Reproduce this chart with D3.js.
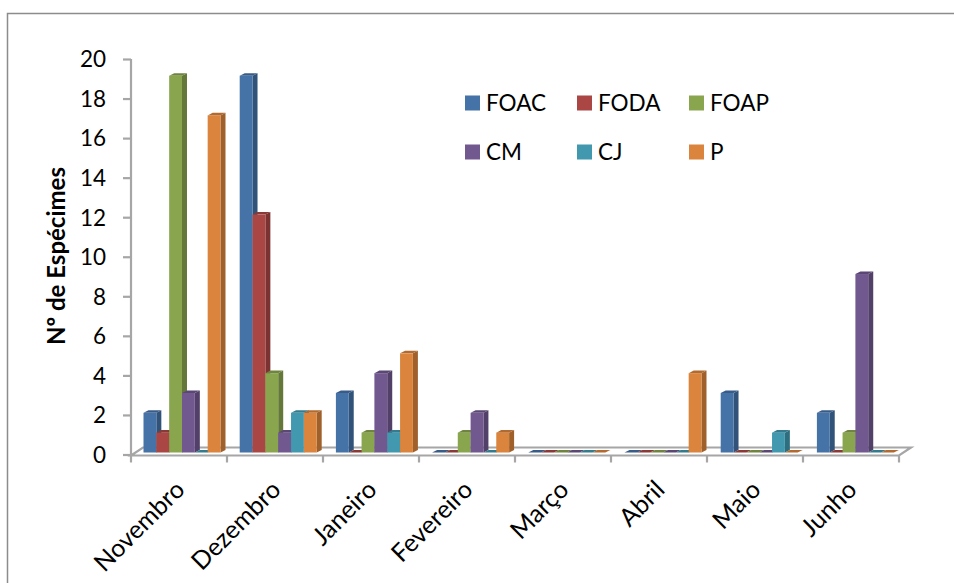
<!DOCTYPE html>
<html><head><meta charset="utf-8">
<script src="https://cdn.jsdelivr.net/npm/d3@7"></script>
<style>html,body{margin:0;padding:0;background:#fff}svg{display:block}text{font-family:Lato,"Open Sans",sans-serif;fill:#000}</style>
</head><body><svg id="c" width="954" height="583"></svg>
<script>
const categories=["Novembro","Dezembro","Janeiro","Fevereiro","Março","Abril","Maio","Junho"];
const seriesNames=["FOAC","FODA","FOAP","CM","CJ","P"];
const FOAC=[2,19,3,0,0,0,3,2];
const FODA=[1,12,0,0,0,0,0,0];
const FOAP=[19,4,1,1,0,0,0,1];
const CM=[3,1,4,2,0,0,0,9];
const CJ=[0,2,1,0,0,0,1,0];
const P=[17,2,5,1,0,4,0,0];
const seriesValues=[FOAC,FODA,FOAP,CM,CJ,P];
const colors=["#4572a7","#aa4643","#89a54e","#71588f","#4198af","#db843d"];
const tickValues=d3.range(0,21,2);

const svg=d3.select("#c");
const gray="#a6a6a6";
svg.append("path").attr("d","M7.5,583V13.5H954").attr("fill","none").attr("stroke","#8c8c8c").attr("stroke-width",1.5);

const x=d3.scaleBand().domain(categories).range([131,899]);
const barX=d3.scaleBand().domain(categories).range([131,900.6]);
const inner=d3.scaleBand().domain(seriesNames).range([12.5,12.5+77]);
const y=d3.scaleLinear().domain([0,20]).range([452.5,55.9]);
const axisY=d3.scaleLinear().domain([0,20]).range([454.5,59]);
const dx=5,dy=2.6;
const fx=12,fy=8;

// floor
svg.append("path").attr("d",`M131,455.5H899L${899+fx},${455.5-fy}H${131+fx}Z`)
  .attr("fill","none").attr("stroke",gray).attr("stroke-width",2.2);

// axes
const gy=svg.append("g").attr("transform","translate(131,0)")
  .call(d3.axisLeft(axisY).tickValues(tickValues).tickSize(8).tickPadding(17).tickFormat(d3.format("d")));
gy.selectAll("path,line").attr("stroke",gray).attr("stroke-width",2.2);
gy.select("path").attr("d","M0,59V455.5");
gy.selectAll("text").attr("font-size",22.5).attr("dy","0.35em");

const gx=svg.append("g").attr("transform","translate(0,455.5)")
  .call(d3.axisBottom(x).tickValues([]).tickSizeOuter(0));
gx.select("path").remove();
gx.selectAll("line.t").data(d3.range(categories.length+1)).join("line").attr("class","t")
  .attr("x1",i=>131+i*x.step()).attr("x2",i=>131+i*x.step()).attr("y1",0).attr("y2",7)
  .attr("stroke",gray).attr("stroke-width",2.2);
gx.selectAll("text.l").data(categories).join("text").attr("class","l")
  .attr("text-anchor","end").attr("font-size",25)
  .attr("transform",d=>`translate(${x(d)+x.step()/2+1},29.5) rotate(-45)`)
  .attr("dy","0.35em").text(d=>d);

// bars
const cg=svg.append("g");
categories.forEach((c,ci)=>{
  seriesNames.forEach((s,si)=>{
    const v=seriesValues[si][ci];
    const col=d3.color(colors[si]);
    const x0=barX(c)+inner(s),w=inner.bandwidth(),t=y(v),b=y(0);
    const g=cg.append("g");
    if(v>0) g.append("path").attr("d",`M${x0+w},${t}L${x0+w+dx},${t-dy}V${b-dy}L${x0+w},${b}Z`).attr("fill",col.darker(0.9));
    g.append("path").attr("d",`M${x0},${t}L${x0+dx},${t-dy}H${x0+w+dx}L${x0+w},${t}Z`).attr("fill",col.darker(0.6));
    if(v>0) g.append("rect").attr("x",x0).attr("y",t).attr("width",w).attr("height",b-t).attr("fill",colors[si]);
  });
});

// legend
const lg=svg.append("g");
seriesNames.forEach((s,i)=>{
  const col=i%3,row=Math.floor(i/3);
  const px=465+col*112,py=row===0?103:152;
  lg.append("rect").attr("x",px).attr("y",py-7.5).attr("width",15).attr("height",15).attr("fill",colors[i]);
  lg.append("text").attr("x",px+21).attr("y",py).attr("dy","0.35em").attr("font-size",22.5).text(s);
});

// y title
svg.append("text").attr("transform","translate(57,256) rotate(-90)").attr("text-anchor","middle")
  .attr("dy","0.35em").attr("font-size",24).attr("font-weight","700").text("Nº de Espécimes");
</script></body></html>
